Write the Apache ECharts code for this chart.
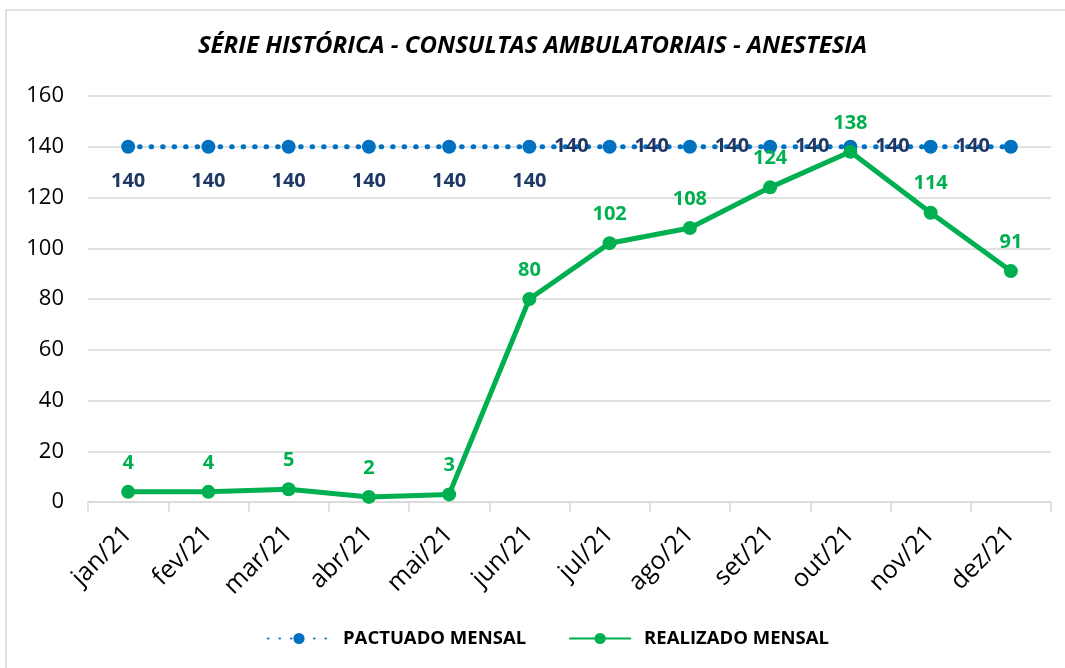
<!DOCTYPE html>
<html>
<head>
<meta charset="utf-8">
<script src="https://cdn.jsdelivr.net/npm/echarts@6/dist/echarts.min.js"></script>
<style>
  html, body { margin: 0; padding: 0; background: #fff; }
  #chart { width: 1065px; height: 668px; }
</style>
</head>
<body>
<div id="chart"></div>
<script>
const months = ["jan/21", "fev/21", "mar/21", "abr/21", "mai/21", "jun/21",
  "jul/21", "ago/21", "set/21", "out/21", "nov/21", "dez/21"];
const pactuado = [140, 140, 140, 140, 140, 140, 140, 140, 140, 140, 140, 140];
const realizado = [4, 4, 5, 2, 3, 80, 102, 108, 124, 138, 114, 91];
const yTicks = [0, 20, 40, 60, 80, 100, 120, 140, 160];

const FONT = "'Open Sans', sans-serif";
const BLUE = "#0070C0";
const GREEN = "#00B050";
const NAVY = "#203864";

// first six "140" labels sit under the point, the rest to its left
const pactData = pactuado.map((v, i) => ({
  value: v,
  label: i < 6 ? { position: "bottom", distance: 18 } : { position: "left", distance: 14 },
}));

const chart = echarts.init(document.getElementById("chart"), null, { renderer: "canvas" });
chart.setOption({
  animation: false,
  textStyle: { fontFamily: FONT },
  graphic: [
    {
      type: "rect",
      shape: { x: 6, y: 10, width: 1100, height: 700 },
      style: { fill: "none", stroke: "#D9D9D9", lineWidth: 1.5 },
      silent: true,
    },
  ],
  title: {
    text: "SÉRIE HISTÓRICA - CONSULTAS AMBULATORIAIS - ANESTESIA",
    left: "center",
    top: 29,
    textStyle: { fontFamily: FONT, fontSize: 24, fontWeight: "bold", fontStyle: "italic", color: "#000" },
  },
  legend: {
    bottom: 15,
    left: 262,
    itemWidth: 62,
    itemHeight: 14,
    itemGap: 42,
    textStyle: { fontFamily: FONT, fontSize: 18.5, fontWeight: "bold", color: "#000", padding: [0, 0, 0, 8] },
    data: ["PACTUADO MENSAL", "REALIZADO MENSAL"],
  },
  grid: { left: 88, right: 14, top: 96, bottom: 166 },
  xAxis: {
    type: "category",
    data: months,
    boundaryGap: true,
    axisLine: { lineStyle: { color: "#D9D9D9", width: 1.5 } },
    axisTick: { show: true, length: 10, alignWithLabel: false, lineStyle: { color: "#D9D9D9", width: 1.5 } },
    axisLabel: { rotate: 45, margin: 28, fontSize: 25, color: "#000", fontFamily: FONT },
  },
  yAxis: {
    type: "value",
    min: yTicks[0],
    max: yTicks[yTicks.length - 1],
    interval: 20,
    axisLine: { show: false },
    axisTick: { show: false },
    axisLabel: { fontSize: 22, color: "#000", margin: 24, fontFamily: FONT },
    splitLine: { lineStyle: { color: "#D9D9D9", width: 1.5 } },
  },
  series: [
    {
      name: "PACTUADO MENSAL",
      type: "line",
      data: pactData,
      symbol: "circle",
      symbolSize: 14,
      itemStyle: { color: BLUE },
      lineStyle: { color: BLUE, width: 5, type: [0.5, 11], cap: "round" },
      label: { show: true, fontSize: 20, fontWeight: "bold", color: NAVY, fontFamily: FONT },
      z: 2,
    },
    {
      name: "REALIZADO MENSAL",
      type: "line",
      data: realizado,
      symbol: "circle",
      symbolSize: 14,
      itemStyle: { color: GREEN },
      lineStyle: { color: GREEN, width: 5 },
      label: { show: true, position: "top", distance: 12, fontSize: 20, fontWeight: "bold", color: GREEN, fontFamily: FONT },
      z: 3,
    },
  ],
});
</script>
</body>
</html>
